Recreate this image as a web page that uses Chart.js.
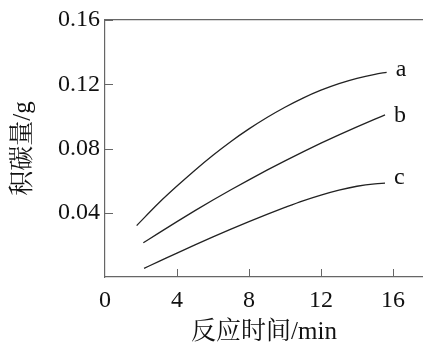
<!DOCTYPE html>
<html><head><meta charset="utf-8">
<script src="https://cdn.jsdelivr.net/npm/chart.js@4"></script>
<style>html,body{margin:0;padding:0;background:#fff}#w{width:423px;height:347px}</style>
</head><body><div id="w"><canvas id="c"></canvas></div>
<script>
const seriesNames = ['a','b','c'];
const aX = [1.76,3,4,5,6,7,8,9,10,11,12,13,14,15,15.65];
const aY = [0.0320,0.0462,0.0566,0.0665,0.0758,0.0844,0.0922,0.0993,0.1057,0.1114,0.1163,0.1204,0.1237,0.1262,0.1274];
const bX = [2.13,3,4,5,6,7,8,9,10,11,12,13,14,15,15.56];
const bY = [0.0213,0.0275,0.0345,0.0413,0.0479,0.0543,0.0605,0.0665,0.0723,0.0779,0.0833,0.0885,0.0935,0.0983,0.1009];
const cX = [2.17,3,4,5,6,7,8,9,10,11,12,13,14,15,15.56];
const cY = [0.0054,0.0097,0.0149,0.0200,0.0250,0.0298,0.0345,0.0390,0.0433,0.0474,0.0510,0.0541,0.0565,0.0580,0.0584];
const xTicks = [0,4,8,12,16];
const yTicks = [0.04,0.08,0.12,0.16];
const xTitle = '反应时间/min';
const yTitle = '积碳量/g';

const serif = '"Liberation Serif","Noto Serif CJK SC","Noto Sans CJK SC",serif';
const axisColor = '#666';
const lineColor = '#222';
const pts = (xs, ys) => xs.map((x, i) => ({x, y: ys[i]}));

const innerTicks = {
  id: 'innerTicks',
  afterDraw(chart) {
    const ctx = chart.ctx, xs = chart.scales.x, ys = chart.scales.y, a = chart.chartArea;
    ctx.save();
    ctx.strokeStyle = axisColor; ctx.lineWidth = 1;
    xTicks.forEach(v => { if (v === 0) return; const px = Math.round(xs.getPixelForValue(v)) + 0.5;
      ctx.beginPath(); ctx.moveTo(px, a.bottom); ctx.lineTo(px, a.bottom - 8); ctx.stroke(); });
    yTicks.forEach(v => { const py = Math.round(ys.getPixelForValue(v)) + 0.5;
      ctx.beginPath(); ctx.moveTo(a.left, py); ctx.lineTo(a.left + 8, py); ctx.stroke(); });
    ctx.fillStyle = '#111'; ctx.font = '24px ' + serif; ctx.textAlign = 'left'; ctx.textBaseline = 'alphabetic';
    const dys = [4, 7, 1];
    chart.data.datasets.forEach((ds, i) => {
      const last = ds.data[ds.data.length - 1];
      ctx.fillText(seriesNames[i], xs.getPixelForValue(last.x) + 9, ys.getPixelForValue(last.y) + dys[i]);
    });
    ctx.restore();
  }
};

const mk = (d) => ({data: d, showLine: true, borderColor: lineColor, borderWidth: 1.3, pointRadius: 0, fill: false, cubicInterpolationMode: 'monotone'});

new Chart(document.getElementById('c'), {
  type: 'scatter',
  data: { datasets: [mk(pts(aX,aY)), mk(pts(bX,bY)), mk(pts(cX,cY))] },
  options: {
    responsive: true, maintainAspectRatio: false, animation: false,
    layout: { padding: { top: 20, right: 0, left: 0, bottom: 0 } },
    plugins: { legend: { display: false }, tooltip: { enabled: false } },
    scales: {
      x: {
        type: 'linear', min: 0, max: 17.67,
        afterBuildTicks: s => { s.ticks = xTicks.map(v => ({value: v})); },
        afterFit: s => { s.height = 70; },
        grid: { display: false, drawTicks: false },
        border: { display: true, color: axisColor, width: 1.2 },
        ticks: { color: '#111', font: { family: serif, size: 24 }, padding: 9, maxRotation: 0, autoSkip: false },
        title: { display: true, text: xTitle, color: '#111', font: { family: serif, size: 25 }, padding: { top: 6, bottom: 0 } }
      },
      x2: {
        type: 'linear', position: 'top', min: 0, max: 17.67,
        afterFit: s => { s.height = 0; },
        grid: { display: false, drawTicks: false },
        border: { display: true, color: axisColor, width: 1.2 },
        ticks: { display: false }
      },
      y: {
        type: 'linear', min: 0, max: 0.16,
        afterBuildTicks: s => { s.ticks = yTicks.map(v => ({value: v})); },
        afterFit: s => { s.width = 105; },
        grid: { display: false, drawTicks: false },
        border: { display: true, color: axisColor, width: 1.2 },
        ticks: { color: '#111', font: { family: serif, size: 24 }, padding: 5, callback: v => v.toFixed(2) },
        title: { display: true, text: yTitle, color: '#111', font: { family: serif, size: 25 }, padding: { top: 8, bottom: 0 } }
      }
    }
  },
  plugins: [innerTicks]
});
</script></body></html>
